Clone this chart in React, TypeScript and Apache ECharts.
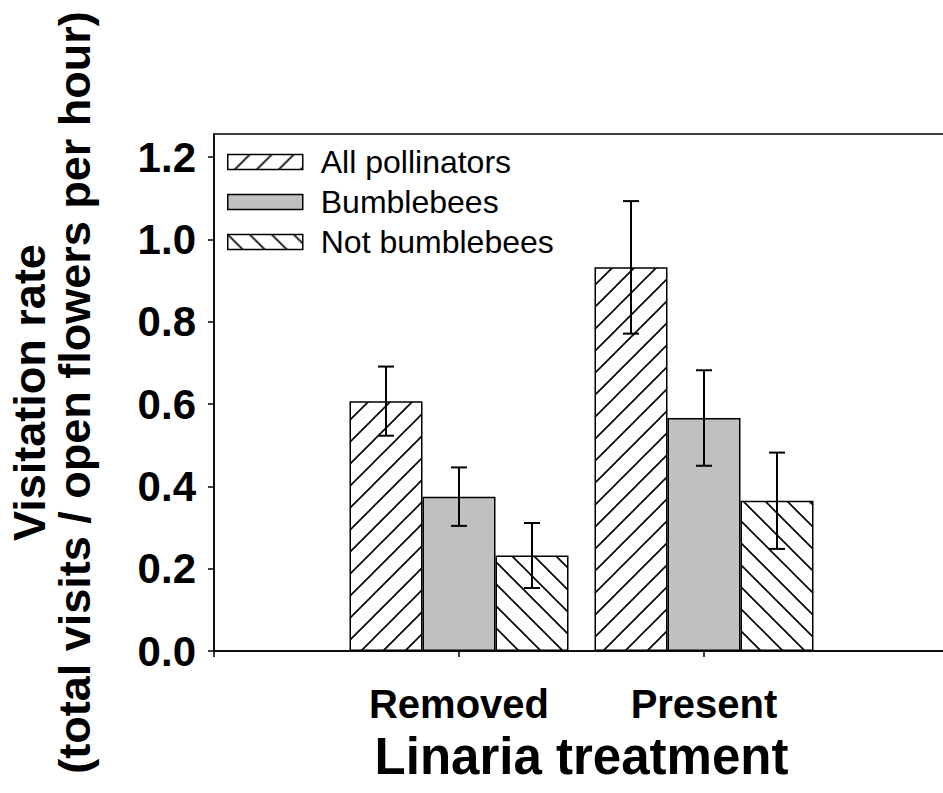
import React, { useEffect, useRef } from "react";
import * as echarts from "echarts";

const treatments = ["Removed", "Present"];
const allPollinators = [0.607, 0.932];
const allPollinatorsSE = [0.084, 0.161];
const bumblebees = [0.375, 0.566];
const bumblebeesSE = [0.071, 0.116];
const notBumblebees = [0.232, 0.365];
const notBumblebeesSE = [0.079, 0.117];
const yTicks = [0, 0.2, 0.4, 0.6, 0.8, 1.0, 1.2];
const seriesNames = ["All pollinators", "Bumblebees", "Not bumblebees"];

const FONT = "'Liberation Sans', Arial, sans-serif";
const BAR_W = 73;

function hatch(dir: "fwd" | "back") {
  const s = 22;
  const d =
    dir === "fwd"
      ? `M0 ${s} L${s} 0 M-3 3 L3 -3 M${s - 3} ${s + 3} L${s + 3} ${s - 3}`
      : `M0 0 L${s} ${s} M${s - 3} -3 L${s + 3} 3 M-3 ${s - 3} L3 ${s + 3}`;
  const svg = `<svg xmlns="http://www.w3.org/2000/svg" width="${s}" height="${s}"><rect width="${s}" height="${s}" fill="white"/><path d="${d}" stroke="black" stroke-width="1.6" fill="none"/></svg>`;
  return {
    image: "data:image/svg+xml;charset=utf-8," + encodeURIComponent(svg),
    repeat: "repeat",
    imageWidth: s,
    imageHeight: s,
  };
}

function errorSeries(values: number[], se: number[], offset: number) {
  return {
    type: "custom",
    silent: true,
    z: 10,
    data: values.map((v, i) => [i + 1, v - se[i], v + se[i]]),
    renderItem: (_params: any, api: any) => {
      const lo = api.coord([api.value(0), api.value(1)]);
      const hi = api.coord([api.value(0), api.value(2)]);
      const cx = lo[0] + offset * BAR_W;
      const st = { stroke: "#000", lineWidth: 2 };
      return {
        type: "group",
        children: [
          { type: "line", shape: { x1: cx, y1: lo[1], x2: cx, y2: hi[1] }, style: st },
          { type: "line", shape: { x1: cx - 8, y1: lo[1], x2: cx + 8, y2: lo[1] }, style: st },
          { type: "line", shape: { x1: cx - 8, y1: hi[1], x2: cx + 8, y2: hi[1] }, style: st },
        ],
      };
    },
  };
}

export default function App() {
  const ref = useRef<HTMLDivElement>(null);
  useEffect(() => {
    document.body.style.margin = "0";
    const chart = echarts.init(ref.current!, null, { renderer: "svg" });
    const categories = ["", ...treatments, ""];
    const pad = (arr: number[]) => [null, ...arr, null];
    const barBase = {
      type: "bar",
      barWidth: BAR_W,
      barGap: "0%",
    };
    const option: any = {
      animation: false,
      backgroundColor: "#fff",
      textStyle: { fontFamily: FONT },
      grid: {
        left: 214,
        top: 134,
        width: 735,
        bottom: 142,
        show: true,
        borderColor: "#000",
        borderWidth: 1.5,
        containLabel: false,
        outerBoundsMode: "none",
      },
      legend: {
        data: seriesNames,
        orient: "vertical",
        left: 227,
        top: 146,
        padding: 0,
        itemWidth: 75,
        itemHeight: 15,
        itemGap: 8,
        icon: "rect",
        itemStyle: { borderColor: "#000", borderWidth: 1.5 },
        textStyle: {
          fontFamily: FONT,
          fontSize: 32,
          lineHeight: 32,
          color: "#000",
          padding: [0, 0, 0, 13],
        },
      },
      xAxis: {
        type: "category",
        data: categories,
        boundaryGap: false,
        axisLine: { lineStyle: { color: "#000", width: 1.5 } },
        axisTick: { show: true, inside: false, length: 6, interval: 0, lineStyle: { color: "#000", width: 1.5 } },
        axisLabel: {
          interval: 0,
          margin: 33,
          fontFamily: FONT,
          fontSize: 40,
          lineHeight: 40,
          fontWeight: "bold",
          color: "#000",
        },
        splitLine: { show: false },
        name: "Linaria treatment",
        nameLocation: "middle",
        nameGap: 79,
        nameTextStyle: {
          fontFamily: FONT,
          fontSize: 51,
          lineHeight: 52,
          fontWeight: "bold",
          color: "#000",
        },
      },
      yAxis: {
        type: "value",
        min: 0,
        max: 1.256,
        axisLine: { show: true, lineStyle: { color: "#000", width: 1.5 } },
        axisTick: { show: true, inside: false, length: 6, customValues: yTicks, lineStyle: { color: "#000", width: 1.5 } },
        axisLabel: {
          customValues: yTicks,
          formatter: (v: number) => v.toFixed(1),
          margin: 18,
          fontFamily: FONT,
          fontSize: 42,
          fontWeight: "bold",
          color: "#000",
        },
        splitLine: { show: false },
        name: "Visitation rate\n(total visits / open flowers per hour)",
        nameLocation: "middle",
        nameRotate: 90,
        nameGap: 117,
        nameTextStyle: {
          fontFamily: FONT,
          fontSize: 45,
          lineHeight: 45,
          fontWeight: "bold",
          color: "#000",
        },
      },
      series: [
        {
          ...barBase,
          name: seriesNames[0],
          data: pad(allPollinators),
          itemStyle: { color: hatch("fwd"), borderColor: "#000", borderWidth: 1.5 },
        },
        {
          ...barBase,
          name: seriesNames[1],
          data: pad(bumblebees),
          itemStyle: { color: "#c0c0c0", borderColor: "#000", borderWidth: 1.5 },
        },
        {
          ...barBase,
          name: seriesNames[2],
          data: pad(notBumblebees),
          itemStyle: { color: hatch("back"), borderColor: "#000", borderWidth: 1.5 },
        },
        errorSeries(allPollinators, allPollinatorsSE, -1),
        errorSeries(bumblebees, bumblebeesSE, 0),
        errorSeries(notBumblebees, notBumblebeesSE, 1),
      ],
    };
    chart.setOption(option);
    return () => chart.dispose();
  }, []);
  return <div ref={ref} style={{ width: 943, height: 793 }} />;
}
